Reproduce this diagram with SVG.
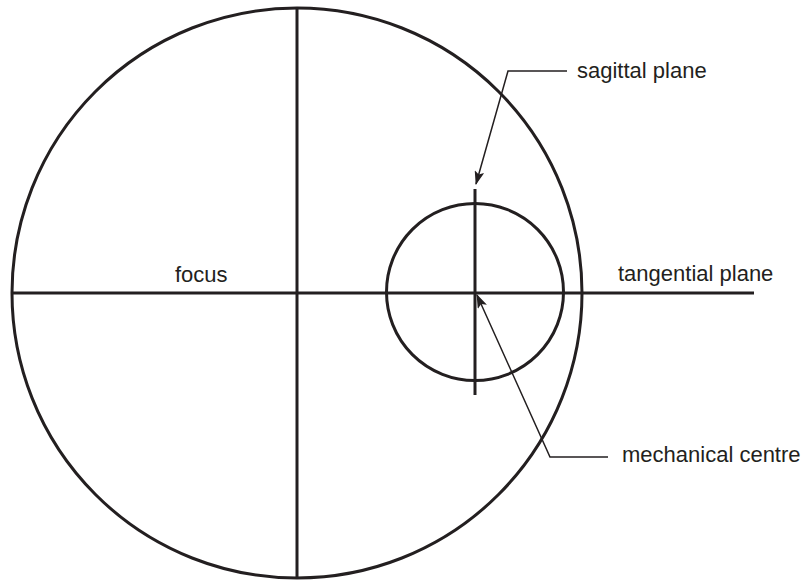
<svg xmlns="http://www.w3.org/2000/svg" width="809" height="581" viewBox="0 0 809 581">
<style>
.thick{fill:none;stroke:#231f20;stroke-width:3}
.thin{fill:none;stroke:#231f20;stroke-width:1.5}
text{font-family:"Liberation Sans",Arial,sans-serif;font-size:22px;fill:#231f20}
</style>
<defs>
<marker id="ah" markerWidth="14" markerHeight="10" refX="13" refY="5" orient="auto" markerUnits="userSpaceOnUse" viewBox="0 0 14 10">
<path d="M0,0 L14,5 L0,10 L3,5 Z" fill="#231f20"/>
</marker>
</defs>
<rect width="809" height="581" fill="#fff"/>
<g id="lens">
<circle class="thick" cx="297" cy="293" r="285"/>
<line class="thick" x1="297" y1="8" x2="297" y2="578"/>
<line class="thick" x1="12" y1="293" x2="754" y2="293"/>
</g>
<g id="centre-circle">
<circle class="thick" cx="475" cy="292" r="88.5"/>
<line class="thick" x1="475" y1="189" x2="475" y2="395"/>
</g>
<g id="connectors">
<polyline class="thin" points="567,71 508,71 476,184" marker-end="url(#ah)"/>
<polyline class="thin" points="608,457 550,457 477,295" marker-end="url(#ah)"/>
</g>
<g id="labels">
<text x="577" y="78">sagittal plane</text>
<text x="175" y="282">focus</text>
<text x="618" y="281">tangential plane</text>
<text x="622" y="462">mechanical centre</text>
</g>
</svg>
